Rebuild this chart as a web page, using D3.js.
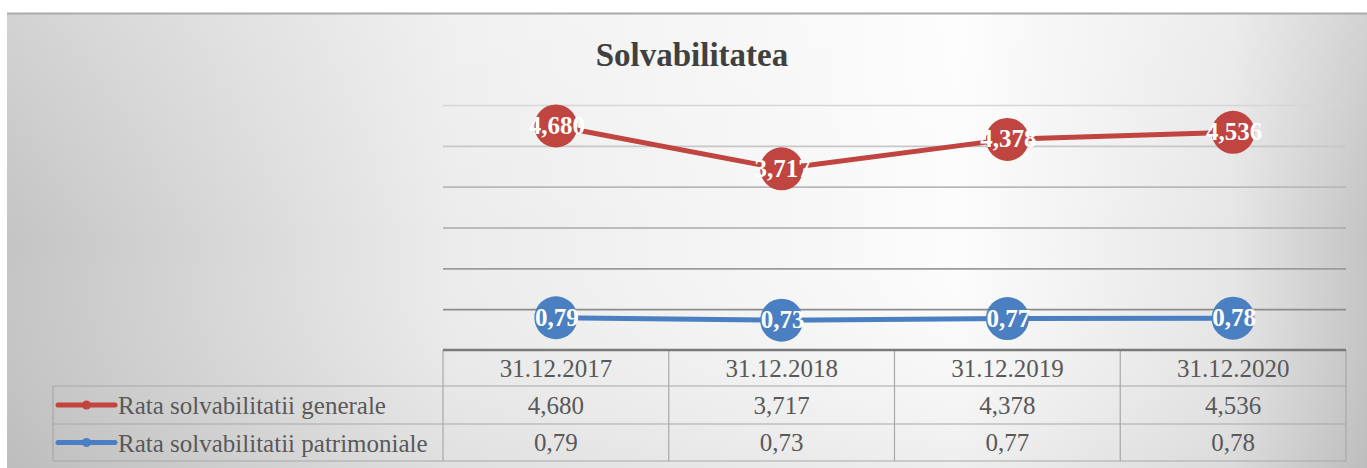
<!DOCTYPE html>
<meta charset="utf-8">
<html>
<head>
<style>
  body { margin: 0; background: #fff; }
  text { font-family: "Liberation Serif", "DejaVu Serif", serif; }
  .domain { display: none; }
</style>
<script src="https://d3js.org/d3.v7.min.js"></script>
</head>
<body>
<svg width="1367" height="468"></svg>
<script>

// data
var categories = ["31.12.2017", "31.12.2018", "31.12.2019", "31.12.2020"];
var seriesNames = ["Rata solvabilitatii generale", "Rata solvabilitatii patrimoniale"];
var generale = [4.680, 3.717, 4.378, 4.536];
var patrimoniale = [0.79, 0.73, 0.77, 0.78];
var primaryTicks = [0, 1, 2, 3, 4, 5, 6];
var title = "Solvabilitatea";

var svg = d3.select("svg"),
    width = +svg.attr("width"),
    height = +svg.attr("height");

var plot = {left: 443, right: 1346, top: 105, bottom: 350};
var table = {left: 53, rowH: [36, 38, 37]};

var red = "#c0443f", blue = "#4a7fc1", txt = "#595959";

var ro = d3.formatLocale({decimal: ",", thousands: ".", grouping: [3], currency: ["", ""]});
var fmt3 = ro.format(".3f"), fmt2 = ro.format(".2f");

// background
var defs = svg.append("defs");
var bg = defs.append("linearGradient").attr("id", "bg");
[[0, "#c4c4c4"], [0.33, "#ececec"], [0.7, "#fcfcfc"], [0.9, "#e6e6e6"], [1, "#c4c4c4"]]
  .forEach(function(s) { bg.append("stop").attr("offset", s[0]).attr("stop-color", s[1]); });
var bgv = defs.append("linearGradient").attr("id", "bgv").attr("x2", 0).attr("y2", 1);
bgv.append("stop").attr("offset", 0).attr("stop-color", "#fff").attr("stop-opacity", 0.25);
bgv.append("stop").attr("offset", 0.5).attr("stop-color", "#fff").attr("stop-opacity", 0);
bgv.append("stop").attr("offset", 1).attr("stop-color", "#888").attr("stop-opacity", 0.12);

svg.append("rect").attr("x", 7).attr("y", 13).attr("width", width - 7).attr("height", height - 13)
  .attr("fill", "url(#bg)");
svg.append("rect").attr("x", 7).attr("y", 13).attr("width", width - 7).attr("height", height - 13)
  .attr("fill", "url(#bgv)");
svg.append("line").attr("x1", 7).attr("x2", width).attr("y1", 13.5).attr("y2", 13.5)
  .attr("stroke", "#ababab").attr("stroke-width", 2);

// scales
var x = d3.scaleBand().domain(categories).range([plot.left, plot.right]);
var y = d3.scaleLinear().domain([0, 6]).range([plot.bottom, plot.top]);
var y2 = d3.scaleLinear().domain([-0.35, 5.15]).range([plot.bottom, plot.top]);
var cx = function(d, i) { return x(categories[i]) + x.bandwidth() / 2; };

// gridlines
var gridShade = d3.scaleLinear().domain([6, 1]).range(["#d6d6d6", "#8c8c8c"]);
var grid = svg.append("g")
  .attr("transform", "translate(" + plot.left + ",0)")
  .call(d3.axisLeft(y).tickValues(primaryTicks.slice(1)).tickSize(-(plot.right - plot.left)).tickFormat(""));
grid.selectAll(".tick line")
  .attr("stroke", function(d) { return gridShade(d); })
  .attr("stroke-width", 1.6);

// title
svg.append("text").attr("x", 692).attr("y", 66).attr("text-anchor", "middle")
  .attr("font-size", 33).attr("font-weight", "bold").attr("fill", "#404040").text(title);

// series
function drawSeries(values, scale, color, fmt) {
  var g = svg.append("g");
  g.append("path").datum(values)
    .attr("fill", "none").attr("stroke", color).attr("stroke-width", 5)
    .attr("stroke-linejoin", "round")
    .attr("d", d3.line().x(cx).y(function(d) { return scale(d); }));
  g.selectAll("circle").data(values).enter().append("circle")
    .attr("cx", cx).attr("cy", function(d) { return scale(d); })
    .attr("r", 21.5).attr("fill", color);
  g.selectAll("text").data(values).enter().append("text")
    .attr("x", function(d, i) { return cx(d, i) + 1; })
    .attr("y", function(d) { return scale(d) + 8; })
    .attr("text-anchor", "middle").attr("font-size", 25).attr("font-weight", "bold")
    .attr("fill", "#fff").text(fmt);
}
drawSeries(generale, y2, red, fmt3);
drawSeries(patrimoniale, y, blue, fmt2);

// data table
var r0 = plot.bottom, r1 = r0 + table.rowH[0], r2 = r1 + table.rowH[1], r3 = r2 + table.rowH[2];
var tg = svg.append("g").attr("stroke", "#a8a8a8").attr("stroke-width", 1.2);
[r1, r2, r3].forEach(function(yy) {
  tg.append("line").attr("x1", table.left).attr("x2", plot.right).attr("y1", yy).attr("y2", yy);
});
tg.append("line").attr("x1", table.left).attr("x2", table.left).attr("y1", r1).attr("y2", r3);
categories.forEach(function(c) {
  tg.append("line").attr("x1", x(c)).attr("x2", x(c)).attr("y1", r0).attr("y2", r3);
});
tg.append("line").attr("x1", plot.right).attr("x2", plot.right).attr("y1", r0).attr("y2", r3);
svg.append("line").attr("x1", plot.left).attr("x2", plot.right).attr("y1", r0).attr("y2", r0)
  .attr("stroke", "#7a7a7a").attr("stroke-width", 2.5);

var cellText = function(yy, vals) {
  svg.append("g").selectAll("text").data(vals).enter().append("text")
    .attr("x", cx).attr("y", yy).attr("text-anchor", "middle")
    .attr("font-size", 25).attr("fill", txt).text(function(d) { return d; });
};
cellText(r0 + 27, categories);
cellText(r1 + 28, generale.map(fmt3));
cellText(r2 + 27, patrimoniale.map(fmt2));

// legend keys in table
[[red, r1 + table.rowH[1] / 2], [blue, r2 + table.rowH[2] / 2]].forEach(function(k, i) {
  var lg = svg.append("g");
  lg.append("line").attr("x1", 58).attr("x2", 115).attr("y1", k[1]).attr("y2", k[1])
    .attr("stroke", k[0]).attr("stroke-width", 5).attr("stroke-linecap", "round");
  lg.append("circle").attr("cx", 86.5).attr("cy", k[1]).attr("r", 4.5).attr("fill", k[0]);
  lg.append("text").attr("x", 118).attr("y", k[1] + 9).attr("font-size", 25)
    .attr("fill", txt).text(seriesNames[i]);
});

</script>
</body>
</html>
